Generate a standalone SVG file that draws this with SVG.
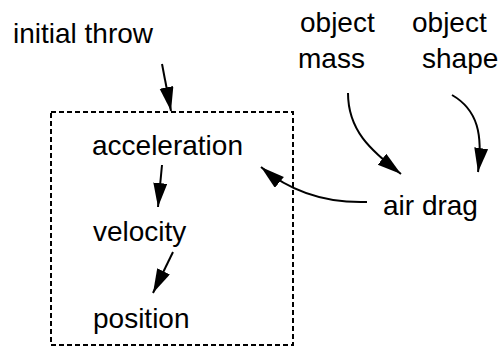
<svg xmlns="http://www.w3.org/2000/svg" width="499" height="347" viewBox="0 0 499 347">
<style>
text{font-family:"Liberation Sans",Arial,sans-serif;font-size:28px;fill:#000}
.c{fill:none;stroke:#000;stroke-width:2}
</style>
<defs>
<marker id="ah" markerUnits="userSpaceOnUse" markerWidth="26" markerHeight="16" refX="24" refY="7" orient="auto">
<path d="M0,0 L24,7 L0,14 z" fill="#000"/>
</marker>
</defs>
<rect x="0" y="0" width="499" height="347" fill="#fff"/>
<g id="box"><rect x="51" y="112" width="242" height="233" fill="none" stroke="#000" stroke-width="2" stroke-dasharray="5,3"/></g>
<g id="initial-throw"><text x="13" y="43">initial throw</text></g>
<g id="object-mass"><text x="300" y="32">object</text><text x="298" y="68">mass</text></g>
<g id="object-shape"><text x="412" y="32">object</text><text x="422" y="68">shape</text></g>
<g id="air-drag"><text x="383" y="215">air drag</text></g>
<g id="acceleration"><text x="92" y="155">acceleration</text></g>
<g id="velocity"><text x="93" y="241">velocity</text></g>
<g id="position"><text x="93" y="328">position</text></g>
<g id="connectors">
<path class="c" d="M162,64 L171,111" marker-end="url(#ah)"/>
<path class="c" d="M162,165 L158,207" marker-end="url(#ah)"/>
<path class="c" d="M173,252 L153,293" marker-end="url(#ah)"/>
<path class="c" d="M367,202 Q305,204 261,167" marker-end="url(#ah)"/>
<path class="c" d="M348,93 C348,130 370,150 401,174" marker-end="url(#ah)"/>
<path class="c" d="M452,95 C478,110 483,135 478,172" marker-end="url(#ah)"/>
</g>
</svg>
